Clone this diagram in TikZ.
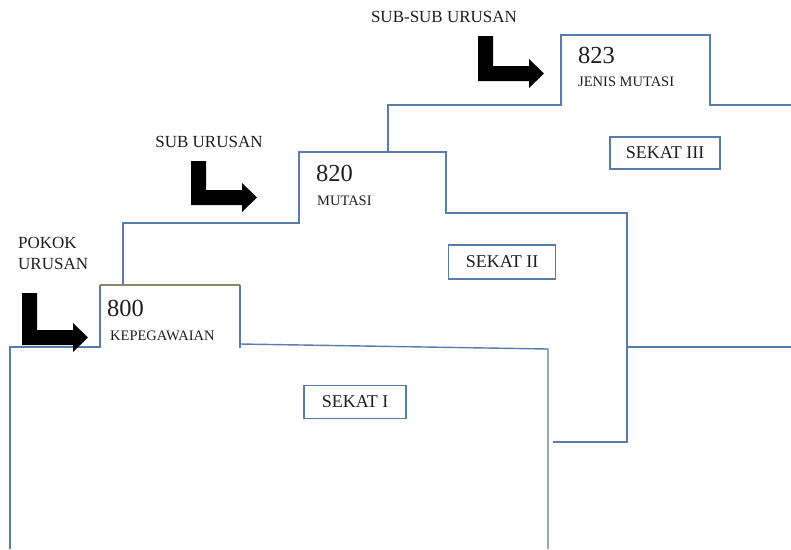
\documentclass[tikz,border=0pt]{standalone}
\usepackage{fontspec}
\setmainfont{Liberation Serif}
\definecolor{lineblue}{RGB}{88,124,172}
\definecolor{tabolive}{RGB}{140,138,100}
\definecolor{txtgray}{RGB}{30,30,30}
\tikzset{
  folderline/.style={draw=lineblue, line width=1.4pt, line join=miter},
  tabtop/.style={draw=tabolive, line width=1.4pt},
  lbl/.style={text=txtgray, font=\fontsize{17}{21}\selectfont, inner sep=0pt},
  codetxt/.style={text=txtgray, font=\fontsize{24.5}{26}\selectfont, anchor=west, inner sep=0pt},
  subtxt/.style={text=txtgray, font=\fontsize{14.5}{16}\selectfont, anchor=west, inner sep=0pt},
  sekat/.style={draw=lineblue, line width=1.4pt, text=txtgray, font=\fontsize{18}{20}\selectfont, inner sep=0pt, fill=white},
  pics/bentarrow/.style={code={
    \fill[black] (0,0) -- (15,0) -- (15,#1-15) -- (51,#1-15) -- (51,#1-22) -- (66,#1-7.5)
      -- (51,#1+7) -- (51,#1) -- (0,#1) -- cycle;}}
}
\begin{document}
\begin{tikzpicture}[x=1pt,y=-1pt]
\useasboundingbox (0,0) rectangle (791,549);
% folder 3 (back)
\draw[folderline] (388,152) -- (388,105) -- (561,105) -- (561,35) -- (710,35) -- (710,105) -- (791,105);
\draw[folderline] (627,347) -- (791,347);
% folder 2
\draw[folderline] (123,285) -- (123,223) -- (299,223) -- (299,152) -- (446,152) -- (446,213) -- (627,213) -- (627,442) -- (553,442);
% folder 1 (front)
\draw[folderline] (10,549) -- (10,347) -- (100,347) -- (100,285);
\draw[tabtop] (100,285) -- (240,285);
\draw[folderline] (240,285) -- (240,348);
\draw[folderline] (240,344) -- (548,349) -- (548,549);
% arrows
\pic at (22,293) {bentarrow=52};
\pic at (191,161) {bentarrow=44};
\pic at (478,36) {bentarrow=45};
% labels
\node[lbl] (lsubsub) at (444,17) {SUB-SUB URUSAN};
\node[lbl] (lsub) at (209,142) {SUB URUSAN};
\node[lbl, anchor=west] (lpokok) at (18,243) {POKOK};
\node[lbl, anchor=west] (lurusan) at (18,264) {URUSAN};
% codes
\node[codetxt] (c800) at (107,308) {800};
\node[subtxt] (t800) at (110,336) {KEPEGAWAIAN};
\node[codetxt] (c820) at (316,173) {820};
\node[subtxt] (t820) at (317,201) {MUTASI};
\node[codetxt] (c823) at (578,55) {823};
\node[subtxt] (t823) at (578,82) {JENIS MUTASI};
% sekat boxes
\node[sekat, minimum width=110pt, minimum height=32pt] (s3) at (665,153) {SEKAT III};
\node[sekat, minimum width=107pt, minimum height=34pt] (s2) at (502,262) {SEKAT II};
\node[sekat, minimum width=102pt, minimum height=33pt] (s1) at (355,402) {SEKAT I};
\end{tikzpicture}
\end{document}
